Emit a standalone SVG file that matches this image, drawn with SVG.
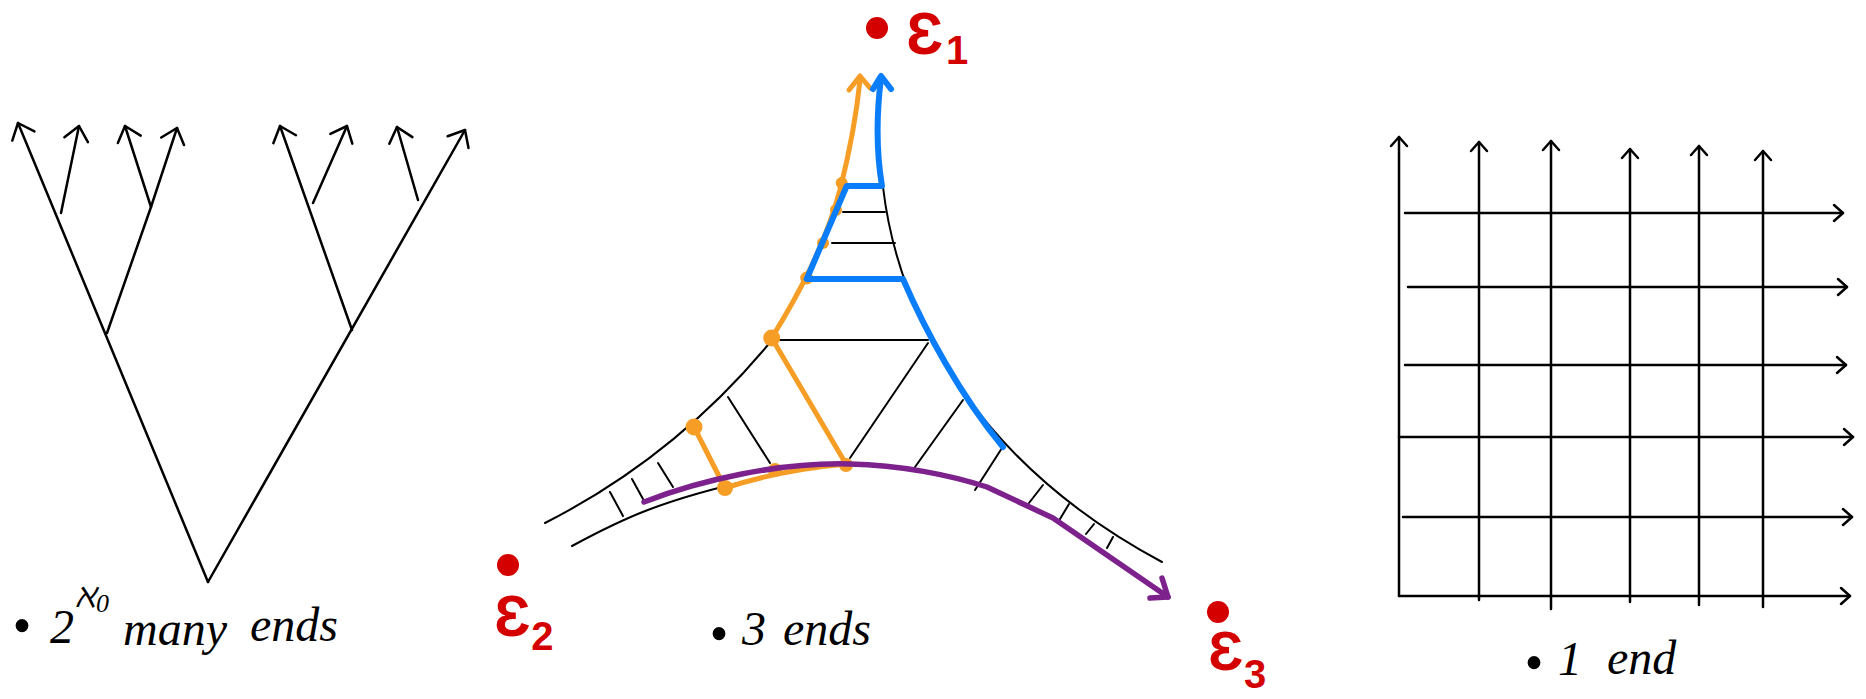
<svg xmlns="http://www.w3.org/2000/svg" width="1866" height="699" viewBox="0 0 1866 699">
<style>
.ln{fill:none;stroke:#000;stroke-width:2.5;stroke-linecap:round;stroke-linejoin:round}
.thin{fill:none;stroke:#000;stroke-width:2;stroke-linecap:round}
.or{fill:none;stroke:#f59d24;stroke-width:5;stroke-linecap:round;stroke-linejoin:round}
.ordot{fill:#f59d24}
.bl{fill:none;stroke:#0a7dfb;stroke-width:6;stroke-linecap:round;stroke-linejoin:round}
.pu{fill:none;stroke:#7d228c;stroke-width:5.5;stroke-linecap:round;stroke-linejoin:round}
.red{fill:#d40000}
.hand{font-family:"Liberation Serif","DejaVu Serif",serif;font-style:italic;font-size:48px;fill:#000}
.eps{font-family:"Liberation Sans","DejaVu Sans",sans-serif;font-weight:bold;fill:#d40000}
</style>
<defs>
<marker id="chevT" markerUnits="userSpaceOnUse" viewBox="-20 -20 40 40" markerWidth="40" markerHeight="40" refX="0" refY="0" orient="auto" overflow="visible">
<path d="M-14,-12 L0,0 L-14,12" fill="none" stroke="#000" stroke-width="2.5" stroke-linecap="round" stroke-linejoin="round"/>
</marker>
<marker id="chevG" markerUnits="userSpaceOnUse" viewBox="-20 -20 40 40" markerWidth="40" markerHeight="40" refX="0" refY="0" orient="auto" overflow="visible">
<path d="M-9,-8 L0,0 L-9,8" fill="none" stroke="#000" stroke-width="2.5" stroke-linecap="round" stroke-linejoin="round"/>
</marker>
</defs>

<g id="tree">
<path class="ln" d="M208,582 L18,123" marker-end="url(#chevT)"/>
<path class="ln" d="M208,582 L465,130" marker-end="url(#chevT)"/>
<path class="ln" d="M107,333 L151,207 L177,128" marker-end="url(#chevT)"/>
<path class="ln" d="M151,207 L125,126" marker-end="url(#chevT)"/>
<path class="ln" d="M61,213 L79,126" marker-end="url(#chevT)"/>
<path class="ln" d="M352,330 L280,126" marker-end="url(#chevT)"/>
<path class="ln" d="M313,203 L347,126" marker-end="url(#chevT)"/>
<path class="ln" d="M418,200 L397,127" marker-end="url(#chevT)"/>
</g>

<g id="surface">
<path class="thin" d="M545,523 C600,495 690,440 772,340"/>
<path class="thin" d="M883,187 C900,330 990,470 1162,562"/>
<path class="thin" d="M572,546 C620,520 660,500 760,478"/>
<path class="thin" d="M843,212 L885,212"/>
<path class="thin" d="M832,243 L895,243"/>
<path class="thin" d="M780,340 L928,340"/>
<path class="thin" d="M928,343 L850,458"/>
<path class="thin" d="M963,400 L915,467"/>
<path class="thin" d="M1002,448 L975,490"/>
<path class="thin" d="M728,397 L770,463"/>
<path class="thin" d="M658,463 L673,487"/>
<path class="thin" d="M632,479 L643,499"/>
<path class="thin" d="M610,492 L623,516"/>
<path class="thin" d="M1043,485 L1029,503"/>
<path class="thin" d="M1069,504 L1060,519"/>
<path class="thin" d="M1094,524 L1086,534"/>
<path class="thin" d="M1113,537 L1107,548"/>
</g>

<g id="orange-ray">
<path class="or" d="M771.7,338 C800,292 825,245 840,190 C850,150 857,110 860,80"/>
<path class="or" d="M849,90 L860,76 L870,88"/>
<path class="or" d="M771.7,338 L846,464"/>
<path class="or" d="M694,427 L725,488"/>
<path class="or" d="M725,488 Q780,470 846,464"/>
<circle class="ordot" cx="771.7" cy="338" r="8.5"/>
<circle class="ordot" cx="694" cy="427" r="8.5"/>
<circle class="ordot" cx="725" cy="488" r="8"/>
<circle class="ordot" cx="775" cy="470" r="7"/>
<circle class="ordot" cx="846" cy="465" r="7"/>
<circle class="ordot" cx="806.7" cy="278" r="6.5"/>
<circle class="ordot" cx="823" cy="243" r="6"/>
<circle class="ordot" cx="836" cy="210" r="6"/>
<circle class="ordot" cx="841.7" cy="183" r="6"/>
</g>

<g id="blue-ray">
<path class="bl" d="M881,78 C877,110 876,150 882,186 L846.7,186 L806.7,279 L903,279 C925,330 960,395 1003,447"/>
<path class="bl" d="M873,89 L881,76 L891,89"/>
</g>

<g id="purple-ray">
<path class="pu" d="M644,502 C700,480 780,462 850,464 C900,465 950,475 987,487 L1053,518 L1168,597"/>
<path class="pu" d="M1162,578 L1168,597 L1150,598"/>
</g>

<g id="end-e1">
<circle class="red" cx="877" cy="28" r="11"/>
<text class="eps" x="906" y="54" font-size="59">Ɛ<tspan font-size="40" dx="3" dy="10">1</tspan></text>
</g>
<g id="end-e2">
<circle class="red" cx="508" cy="565" r="11"/>
<text class="eps" x="494" y="636" font-size="58">Ɛ<tspan font-size="40" dx="1" dy="14">2</tspan></text>
</g>
<g id="end-e3">
<circle class="red" cx="1218" cy="612" r="11"/>
<text class="eps" x="1208" y="670" font-size="56">Ɛ<tspan font-size="40" dx="1" dy="18">3</tspan></text>
</g>

<g id="grid">
<path class="ln" d="M1399,596 L1399,137" marker-end="url(#chevG)"/>
<path class="ln" d="M1479,600 L1479,142" marker-end="url(#chevG)"/>
<path class="ln" d="M1551,609 L1551,141" marker-end="url(#chevG)"/>
<path class="ln" d="M1630,602 L1630,149" marker-end="url(#chevG)"/>
<path class="ln" d="M1699,605 L1699,146" marker-end="url(#chevG)"/>
<path class="ln" d="M1763,607 L1763,151" marker-end="url(#chevG)"/>
<path class="ln" d="M1405,213 L1843,213" marker-end="url(#chevG)"/>
<path class="ln" d="M1408,287 L1847,287" marker-end="url(#chevG)"/>
<path class="ln" d="M1405,365 L1846,365" marker-end="url(#chevG)"/>
<path class="ln" d="M1399,437 L1853,437" marker-end="url(#chevG)"/>
<path class="ln" d="M1403,517 L1852,517" marker-end="url(#chevG)"/>
<path class="ln" d="M1399,596 L1850,596" marker-end="url(#chevG)"/>
</g>

<g id="captions">
<text class="hand"><tspan x="12" y="644" font-size="54">•</tspan><tspan x="50" y="643">2</tspan><tspan x="75" y="607" font-size="34">ℵ</tspan><tspan x="96" y="612" font-size="26">0</tspan><tspan x="123" y="645">many</tspan><tspan x="250" y="641">ends</tspan></text>
<text class="hand"><tspan x="709" y="652" font-size="54">•</tspan><tspan x="742" y="645">3</tspan><tspan x="783" y="645">ends</tspan></text>
<text class="hand"><tspan x="1524" y="681" font-size="54">•</tspan><tspan x="1558" y="675">1</tspan><tspan x="1607" y="674">end</tspan></text>
</g>
</svg>
